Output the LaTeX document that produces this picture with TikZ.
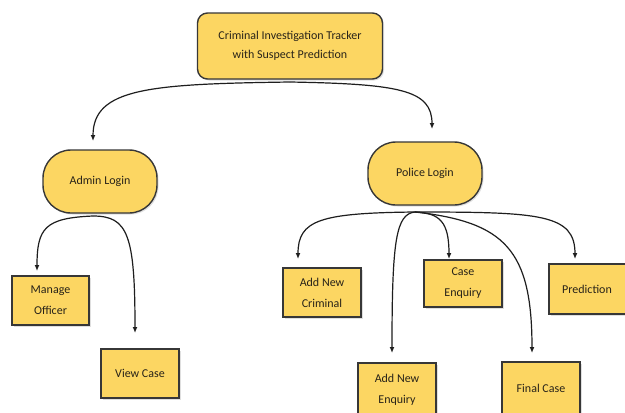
\documentclass[tikz,border=0pt]{standalone}
\usepackage{fontspec}
\setmainfont{Carlito}
\usetikzlibrary{arrows.meta,shadows}
\definecolor{boxfill}{RGB}{252,214,98}
\definecolor{boxline}{RGB}{55,55,55}
\definecolor{arrline}{RGB}{30,30,30}
\definecolor{txt}{RGB}{40,35,25}
\tikzset{
  box/.style={draw=boxline, line width=1.4pt, fill=boxfill, align=center,
    font=\fontsize{12}{19}\selectfont, text=txt,
    drop shadow={shadow xshift=1.5pt, shadow yshift=-1.5pt, opacity=0.25}},
  roundbox/.style={box, rounded corners=10pt},
  pill/.style={box, rounded corners=28pt},
  sqbox/.style={box, font=\fontsize{12}{21}\selectfont},
  arr/.style={draw=arrline, line width=1.2pt, -{Latex[length=6pt,width=5pt]}}
}
\begin{document}
\begin{tikzpicture}[x=1pt,y=-1pt]
\clip (0,0) rectangle (625,413);
\fill[white] (0,0) rectangle (625,413);

\node[roundbox, minimum width=185pt, minimum height=66pt] (top) at (290,46)
  {Criminal Investigation Tracker\\with Suspect Prediction};
\node[pill, minimum width=114pt, minimum height=63pt] (admin) at (100,181.5) {Admin Login};
\node[pill, minimum width=114pt, minimum height=63pt] (police) at (425,173.5) {Police Login};

\node[sqbox, minimum width=77pt, minimum height=49pt] (manage) at (50.5,300.5) {Manage\\Officer};
\node[sqbox, minimum width=78pt, minimum height=49pt] (view) at (140,373.5) {View Case};
\node[sqbox, minimum width=78pt, minimum height=49pt] (crim) at (322,292.5) {Add New\\Criminal};
\node[sqbox, minimum width=78pt, minimum height=47pt] (caseenq) at (463,283.5) {Case\\Enquiry};
\node[sqbox, minimum width=84pt, minimum height=50pt, text width=70pt] (pred) at (591,289) {\hspace*{-8pt}Prediction};
\node[sqbox, minimum width=78pt, minimum height=54pt] (newenq) at (397,390) {Add New\\Enquiry};
\node[sqbox, minimum width=78pt, minimum height=52pt] (final) at (541,388) {Final Case};

\coordinate (ts) at (290,82);
\coordinate (as) at (93,216);
\coordinate (ps) at (415,212);

\draw[arr] (ts) .. controls (150,84) and (93,88) .. (93,141);
\draw[arr] (ts) .. controls (400,84) and (432,90) .. (432,129);

\draw[arr] (as) .. controls (45,218) and (37,228) .. (37,271);
\draw[arr] (as) .. controls (128,216) and (135,235) .. (135,333);

\draw[arr] (ps) .. controls (320,213) and (298,220) .. (298,259);
\draw[arr] (ps) .. controls (396,214) and (392,240) .. (392,353);
\draw[arr] (ps) .. controls (440,213) and (449,222) .. (449,259);
\draw[arr] (ps) .. controls (505,222) and (532,250) .. (532,353);
\draw[arr] (ps) .. controls (540,212) and (575,214) .. (575,259);
\end{tikzpicture}
\end{document}
